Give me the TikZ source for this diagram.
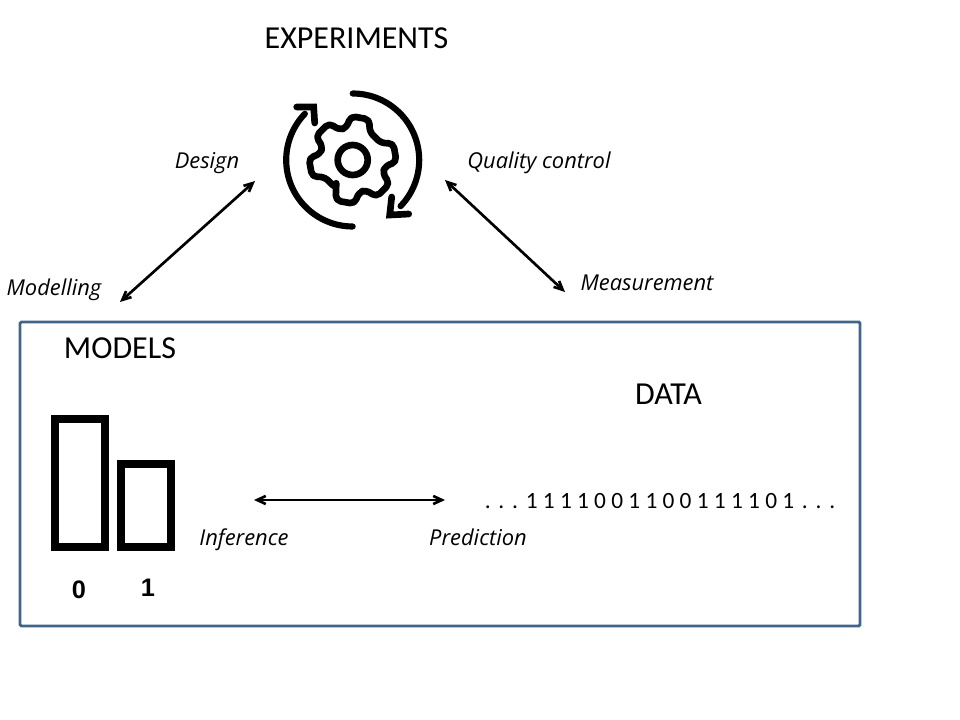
\documentclass[tikz,border=0pt]{standalone}
\usepackage{fontspec}
\setmainfont{Carlito}
\newfontfamily\labelfont{Open Sans}
\newfontfamily\digitfont{Liberation Sans}
\usetikzlibrary{arrows.meta}

\definecolor{framecol}{HTML}{41658A}

\begin{document}
\begin{tikzpicture}[%
        x = 0.75pt,
        y = -0.75pt,
        > = {Straight Barb[length=6.5pt, width=11pt, angle'=50]},
        line cap = round,
        heading/.style = {font = \fontsize{24}{28}\selectfont, inner sep = 0pt},
        verb/.style = {font = \labelfont\itshape\fontsize{16.4}{20}\selectfont, inner sep = 0pt, anchor = base},
        bigarrow/.style = {<->, line width = 2pt},
        bar/.style = {draw, line width = 6.4pt, line cap = butt, line join = miter},
        barlabel/.style = {font = \digitfont\bfseries\fontsize{19}{22}\selectfont, inner sep = 0pt},
        loopline/.style = {line width = 4.6pt, line cap = round},
        looptip/.style = {line width = 5pt, line cap = round, line join = miter}
    ]

        % Fixes the page size.
        \useasboundingbox (0, 0) rectangle (960, 720);

        % Frame around models and data.
        \draw[framecol, line width = 2.2pt, rounded corners = 1pt] (20, 322) rectangle (860, 626);

        % Titles:
        \node[heading] (experiments) at (356.5, 38) {EXPERIMENTS};
        \node[heading] (models) at (120, 348) {MODELS};
        \node[heading] (data) at (668.5, 394) {DATA};

        % Labels of the arrows.
        \node[verb] (design) at (207, 169) {Design};
        \node[verb] (quality) at (539, 169) {Quality control};
        \node[verb] (modelling) at (54, 296) {Modelling};
        \node[verb] (measurement) at (647, 291) {Measurement};
        \node[verb] (inference) at (244, 545) {Inference};
        \node[verb] (prediction) at (478, 545) {Prediction};

        % Free ends of the arrows.
        \coordinate (designend) at (255, 181);
        \coordinate (modelend) at (120, 302);
        \coordinate (qualityend) at (445, 180);
        \coordinate (measureend) at (565, 292);
        \coordinate (inferend) at (254, 500);
        \coordinate (predictend) at (445, 500);

        \draw[bigarrow] (designend) to (modelend);
        \draw[bigarrow] (qualityend) to (measureend);
        \draw[bigarrow] (inferend) to (predictend);

        % Bars for the two outcomes.
        \draw[bar] (55, 419) rectangle (105, 547);
        \draw[bar] (121, 464) rectangle (171, 547);
        \node[barlabel] (zero) at (79, 590) {0};
        \node[barlabel] (one) at (148, 588) {1};

        % Bit string.
        \node[font = \fontsize{17.5}{22}\selectfont, inner sep = 0pt] (bits) at (660, 501)
            {.\,\,.\,\,.\,\,1 1 1 1 0 0 1 1 0 0 1 1 1 1 0 1\,\,.\,\,.\,\,.};

        % Gear with two turning arrows.
        \begin{scope}[shift = {(352.7, 160)}]
            \draw[line width = 5pt] (0, 0) circle (15);
            \draw[line width = 5pt, line join = round, rounded corners = 4pt]
                (120:33)
                \foreach \a in {100, 45, -10, -80, -135, -190}{%
                    -- (\a + 20:33) -- (\a + 13:44) -- (\a - 13:44) -- (\a - 20:33)
                } -- cycle;
            \draw[loopline] (0, -66.5) arc (90:-44:66.5 and -66.5);
            \draw[loopline] (0, 66.5) arc (270:136:66.5 and -66.5);
            \draw[looptip] (39, 37) -- (37, 55) -- (56, 54);
            \draw[looptip] (-38, -37) -- (-39, -53) -- (-56, -53);
        \end{scope}
    \end{tikzpicture}
\end{document}
